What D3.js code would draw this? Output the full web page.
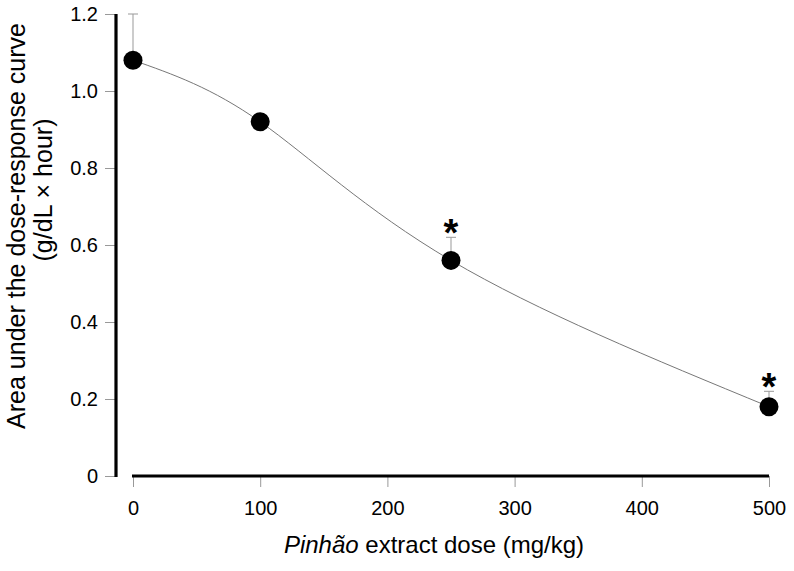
<!DOCTYPE html>
<html><head><meta charset="utf-8">
<script src="https://cdn.jsdelivr.net/npm/d3@7"></script>
<style>body{margin:0;background:#fff}text{font-family:"Liberation Sans",Arial,sans-serif}</style>
</head><body>
<svg id="c" width="794" height="571"></svg>
<script>
const doses = [0, 100, 250, 500];
const values = [1.08, 0.92, 0.56, 0.18];
const errors = [0.12, 0, 0.06, 0.04];
const significant = [false, false, true, true];
const xTicks = [0, 100, 200, 300, 400, 500];
const yTicks = [0, 0.2, 0.4, 0.6, 0.8, 1.0, 1.2];

const svg = d3.select("#c");
const x = d3.scaleLinear().domain([0, 500]).range([133, 769]);
const y = d3.scaleLinear().domain([0, 1.2]).range([476, 14]);

// y axis
const ya = svg.append("g").attr("transform", "translate(116,0)")
  .call(d3.axisLeft(y).tickValues(yTicks).tickSize(11).tickPadding(7)
    .tickFormat(d => d === 0 ? "0" : d3.format(".1f")(d)));
ya.select(".domain").remove();
ya.selectAll(".tick line").attr("stroke", "#999");
ya.selectAll(".tick text").attr("font-size", 20).attr("fill", "#000");
svg.append("line").attr("x1", 116).attr("x2", 116).attr("y1", y(1.2)).attr("y2", y(0) + 1)
  .attr("stroke", "#000").attr("stroke-width", 3.2);

// x axis
const xa = svg.append("g").attr("transform", "translate(0,476)")
  .call(d3.axisBottom(x).tickValues(xTicks).tickSize(11).tickPadding(14));
xa.select(".domain").remove();
xa.selectAll(".tick line").attr("stroke", "#999");
xa.selectAll(".tick text").attr("font-size", 20).attr("fill", "#000");
svg.append("line").attr("x1", x(0) - 1).attr("x2", x(500)).attr("y1", 476).attr("y2", 476)
  .attr("stroke", "#000").attr("stroke-width", 3.2);

const data = doses.map((d, i) => ({d, v: values[i], e: errors[i], s: significant[i]}));

// curve
svg.append("path").datum(data)
  .attr("d", d3.line().x(p => x(p.d)).y(p => y(p.v)).curve(d3.curveNatural))
  .attr("fill", "none").attr("stroke", "#777").attr("stroke-width", 1);

// error bars
const eb = svg.append("g").selectAll("g").data(data.filter(p => p.e > 0)).join("g");
eb.append("line").attr("x1", p => x(p.d)).attr("x2", p => x(p.d))
  .attr("y1", p => y(p.v)).attr("y2", p => y(p.v + p.e)).attr("stroke", "#999");
eb.append("line").attr("x1", p => x(p.d) - 5).attr("x2", p => x(p.d) + 5)
  .attr("y1", p => y(p.v + p.e)).attr("y2", p => y(p.v + p.e)).attr("stroke", "#999");

// points
svg.append("g").selectAll("circle").data(data).join("circle")
  .attr("cx", p => x(p.d)).attr("cy", p => y(p.v)).attr("r", 9.5).attr("fill", "#000");

// asterisks
svg.append("g").selectAll("text").data(data.filter(p => p.s)).join("text")
  .attr("x", p => x(p.d)).attr("y", p => y(p.v + p.e) + 9)
  .attr("text-anchor", "middle").attr("font-size", 38).attr("font-weight", "bold").text("*");

// y label
svg.append("text").attr("transform", "translate(25,226) rotate(-90)")
  .attr("text-anchor", "middle").attr("font-size", 25).text("Area under the dose-response curve");
svg.append("text").attr("transform", "translate(52,190) rotate(-90)")
  .attr("text-anchor", "middle").attr("font-size", 25).text("(g/dL \u00d7 hour)");

// x label
const xl = svg.append("text").attr("x", 434).attr("y", 553).attr("text-anchor", "middle").attr("font-size", 24);
xl.append("tspan").attr("font-style", "italic").text("Pinh\u00e3o");
xl.append("tspan").text(" extract dose (mg/kg)");
</script>
</body></html>
